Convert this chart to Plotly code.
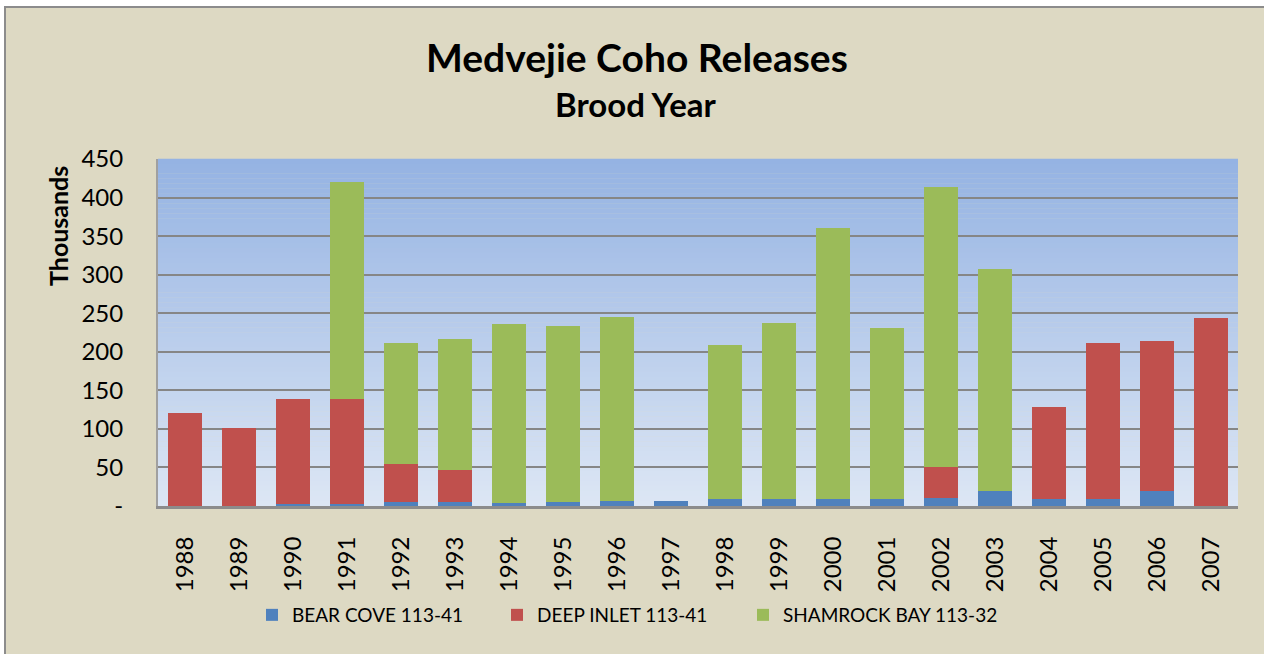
import plotly.graph_objects as go

years = [str(y) for y in range(1988, 2008)]
bear_cove = [0, 0, 2, 3, 5, 5, 4, 5, 6, 6, 9, 9, 9, 9, 11, 20, 9, 9, 20, 0]
deep_inlet = [120, 101, 137, 136, 50, 42, 0, 0, 0, 0, 0, 0, 0, 0, 39, 0, 119, 202, 194, 244]
shamrock_bay = [0, 0, 0, 281, 156, 170, 232, 229, 239, 0, 200, 228, 351, 222, 364, 288, 0, 0, 0, 0]
y_ticks = [0, 50, 100, 150, 200, 250, 300, 350, 400, 450]
y_ticktext = ["-"] + [str(v) for v in y_ticks[1:]]

FONT = "Lato"
W, H = 1264, 654
L, R, T, B = 158, 26, 159, 148
PW, PH = W - L - R, H - T - B


def px(x):
    return (x - L) / PW


def py(y):
    return (H - B - y) / PH


fig = go.Figure()
fig.add_trace(go.Bar(x=years, y=bear_cove, name="BEAR COVE 113-41", legend="legend",
                     marker=dict(color="#4F81BD", line=dict(width=0))))
fig.add_trace(go.Bar(x=years, y=deep_inlet, name="DEEP INLET 113-41", legend="legend",
                     marker=dict(color="#C0504D", line=dict(width=0))))
fig.add_trace(go.Bar(x=years, y=shamrock_bay, name="SHAMROCK BAY 113-32", legend="legend2",
                     marker=dict(color="#9BBB59", line=dict(width=0))))

shapes = [dict(type="rect", xref="paper", yref="paper", x0=px(5), x1=px(1290), y0=py(680), y1=py(7),
               fillcolor="#DDD9C3", line=dict(color="#8C8C8C", width=2), layer="below")]
# gradient plot background
top = (0x95, 0xB3, 0xE3)
bot = (0xDC, 0xE6, 0xF4)
n = 70
for i in range(n):
    f = i / (n - 1)
    c = tuple(round(top[k] + (bot[k] - top[k]) * f) for k in range(3))
    shapes.append(dict(type="rect", xref="paper", yref="paper", x0=0, x1=1,
                       y0=1 - (i + 1) / n, y1=1 - i / n + 0.001,
                       fillcolor="rgb(%d,%d,%d)" % c, line=dict(width=0), layer="below"))

annotations = [
    dict(text="<b>Medvejie Coho Releases</b>", x=px(637), y=py(57), xref="paper", yref="paper",
         showarrow=False, font=dict(family=FONT, size=39, color="black"), xanchor="center", yanchor="middle"),
    dict(text="<b>Brood Year</b>", x=px(636), y=py(104), xref="paper", yref="paper",
         showarrow=False, font=dict(family=FONT, size=33, color="black"), xanchor="center", yanchor="middle"),
    dict(text="<b>Thousands</b>", x=px(58), y=py(226), xref="paper", yref="paper", textangle=-90,
         showarrow=False, font=dict(family=FONT, size=25, color="black"), xanchor="center", yanchor="middle"),
]

legend_common = dict(orientation="h", yanchor="middle", xanchor="left", y=py(615),
                     font=dict(family=FONT, size=19, color="black"), bgcolor="rgba(0,0,0,0)",
                     traceorder="normal", itemwidth=30)

fig.update_layout(
    width=W, height=H,
    margin=dict(l=L, r=R, t=T, b=B, pad=0),
    barmode="stack", bargap=0.37,
    paper_bgcolor="white", plot_bgcolor="rgba(0,0,0,0)",
    font=dict(family=FONT, color="black"),
    shapes=shapes, annotations=annotations,
    showlegend=True,
    legend=dict(x=px(252), entrywidth=200, entrywidthmode="pixels", **legend_common),
    legend2=dict(x=px(743), **legend_common),
    xaxis=dict(type="category", tickangle=-90, tickfont=dict(family=FONT, size=24, color="black"),
               showline=True, linecolor="#8C8C8C", linewidth=3, showgrid=False, ticks="",
               ticklabelstandoff=18, fixedrange=True),
    yaxis=dict(range=[0, 450], tickvals=y_ticks, ticktext=y_ticktext,
               tickfont=dict(family=FONT, size=24, color="black"),
               showgrid=True, gridcolor="#868686", gridwidth=2, zeroline=False,
               showline=True, linecolor="#A0A0A0", linewidth=2, ticks="", ticklabelstandoff=28,
               fixedrange=True),
)

fig.write_html("out.html", config={"displayModeBar": False},
               post_script="document.body.style.margin='0';document.body.style.overflow='hidden';")
